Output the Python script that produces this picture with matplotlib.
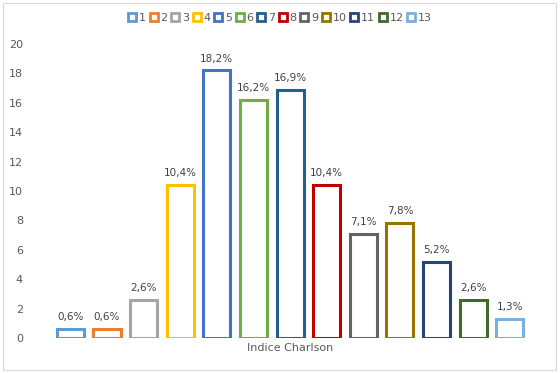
import matplotlib.pyplot as plt
from matplotlib.lines import Line2D
from matplotlib.patches import Rectangle

categories = ['1', '2', '3', '4', '5', '6', '7', '8', '9', '10', '11', '12', '13']
values = [0.6, 0.6, 2.6, 10.4, 18.2, 16.2, 16.9, 10.4, 7.1, 7.8, 5.2, 2.6, 1.3]
labels = ['0,6%', '0,6%', '2,6%', '10,4%', '18,2%', '16,2%', '16,9%',
          '10,4%', '7,1%', '7,8%', '5,2%', '2,6%', '1,3%']
colors = ['#5B9BD5', '#ED7D31', '#A5A5A5', '#FFC000', '#4472C4', '#70AD47',
          '#255E91', '#C00000', '#636363', '#997300', '#264478', '#43682B',
          '#7CAFDD']

fig = plt.figure(figsize=(5.6, 3.73), dpi=100)
ax = fig.add_axes([0.093, 0.094, 0.85, 0.788])

for i, (v, c, lab) in enumerate(zip(values, colors, labels)):
    ax.bar(i, v, width=0.74, facecolor='white', edgecolor=c, linewidth=2.2)
    ax.annotate(lab, (i, v), xytext=(0, 5), textcoords='offset points',
                ha='center', va='bottom', fontsize=7.5, color='#404040')

ax.set_xlim(-0.5, 12.5)
ax.set_ylim(0, 20)
ax.set_yticks(range(0, 21, 2))
ax.set_xticks([])
ax.tick_params(axis='y', length=0, labelsize=8, labelcolor='#595959', pad=21)
for s in ax.spines.values():
    s.set_visible(False)
ax.set_xlabel('Indice Charlson', fontsize=8, color='#595959', labelpad=4)

handles = [Line2D([], [], marker='s', linestyle='none', markersize=6,
                  markerfacecolor='white', markeredgecolor=c, markeredgewidth=2)
           for c in colors]
fig.legend(handles, categories, loc='center', bbox_to_anchor=(0.5, 0.952),
           ncol=13, frameon=False, fontsize=8, handlelength=0.8,
           handletextpad=0.2, columnspacing=0.3, labelcolor='#595959')

fig.patches.append(Rectangle((0.005, 0.008), 0.988, 0.985, transform=fig.transFigure,
                             fill=False, edgecolor='#D9D9D9', linewidth=0.8))

fig.savefig('out.png', dpi=100)
